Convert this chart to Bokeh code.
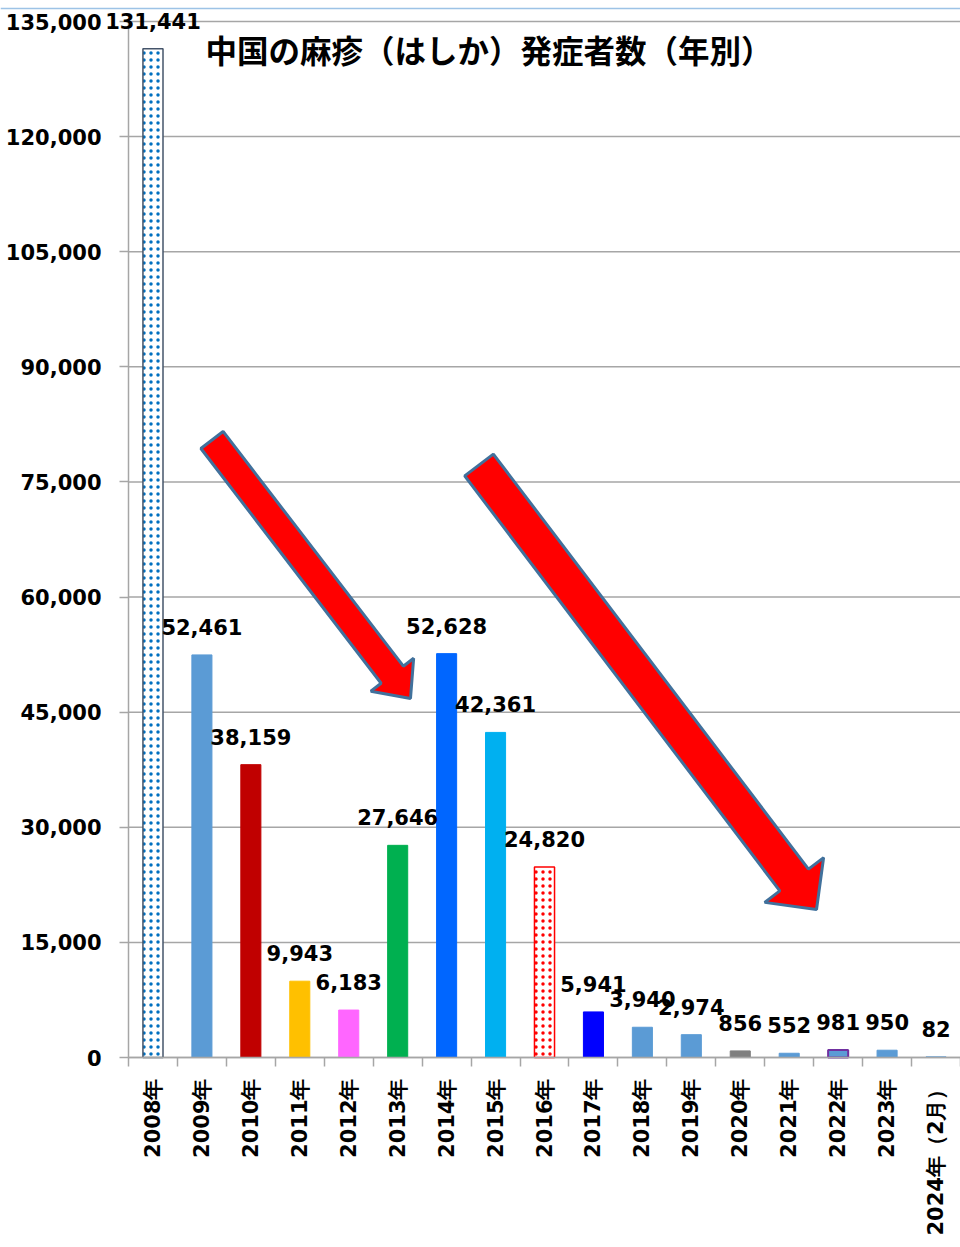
import math
from bokeh.plotting import figure
from bokeh.models import (Range1d, FixedTicker, NumeralTickFormatter, ColumnDataSource, Label,
                          LabelSet, Span)
from bokeh.core.properties import value
from bokeh.embed import file_html
from bokeh.resources import INLINE

# ---------------- data ----------------
years = ["2008年", "2009年", "2010年", "2011年", "2012年", "2013年", "2014年", "2015年",
         "2016年", "2017年", "2018年", "2019年", "2020年", "2021年", "2022年", "2023年",
         "2024年（2月）"]
cases = [131441, 52461, 38159, 9943, 6183, 27646, 52628, 42361, 24820,
         5941, 3940, 2974, 856, 552, 981, 950, 82]
fill_colors = ["#FFFFFF", "#5B9BD5", "#C00000", "#FFC000", "#FF66FF", "#00B050", "#0066FF",
               "#00B0F0", "#FFFFFF", "#0000FF", "#5B9BD5", "#5B9BD5", "#7F7F7F", "#5B9BD5",
               "#5B9BD5", "#5B9BD5", "#5B9BD5"]
line_colors = ["#44546A", "#5B9BD5", "#C00000", "#FFC000", "#FF66FF", "#00B050", "#0066FF",
               "#00B0F0", "#FF0000", "#0000FF", "#5B9BD5", "#5B9BD5", "#7F7F7F", "#5B9BD5",
               "#7030A0", "#5B9BD5", "#5B9BD5"]
line_widths = [1.5, 1, 1, 1, 1, 1, 1, 1, 1.5, 1, 1, 1, 1, 1, 2, 1, 1]
hatches = ["dot", "blank", "blank", "blank", "blank", "blank", "blank", "blank", "dot",
           "blank", "blank", "blank", "blank", "blank", "blank", "blank", "blank"]
hatch_colors = ["#0070C0", "#000000", "#000000", "#000000", "#000000", "#000000", "#000000",
                "#000000", "#FF0000", "#000000", "#000000", "#000000", "#000000", "#000000",
                "#000000", "#000000", "#000000"]
y_ticks = [0, 15000, 30000, 45000, 60000, 75000, 90000, 105000, 120000, 135000]
title_text = "中国の麻疹（はしか）発症者数（年別）"

# arrows: tail / tip in data units; widths in px
arrows = [
    dict(tail=(1.706, 80470), tip=(5.762, 46780), shaft=14, head=27, head_len=30),
    dict(tail=(7.162, 77210), tip=(14.058, 19290), shaft=18, head=37, head_len=37),
]

# ---------------- layout ----------------
W, H = 960, 1245
AX_LEFT, AX_TOP, AX_BOTTOM = 128, 21, 1057   # plot-area position inside the figure
N = len(years)
YMAX = 135000
sx = (W - AX_LEFT) / N            # px per category unit
sy = (AX_BOTTOM - AX_TOP) / YMAX  # px per data unit
x_start = -AX_LEFT / sx
y_end = YMAX + AX_TOP / sy
y_start = -(H - AX_BOTTOM) / sy

xs = [i + 0.5 for i in range(N)]
src = ColumnDataSource(dict(
    x=xs, top=cases, fill=fill_colors, line=line_colors, lw=line_widths,
    hatch=hatches, hcolor=hatch_colors, label=[f"{v:,}" for v in cases]))

p = figure(width=W, height=H, x_range=Range1d(x_start, N), y_range=Range1d(y_start, y_end),
           output_backend="svg", toolbar_location=None,
           min_border_left=0, min_border_right=0, min_border_top=0, min_border_bottom=0)
p.outline_line_color = None
p.background_fill_color = "white"
p.border_fill_color = "white"
p.xgrid.grid_line_color = None
p.ygrid.grid_line_color = None

# horizontal grid lines over the plot area
p.segment(x0=[0] * len(y_ticks), x1=[N] * len(y_ticks), y0=y_ticks, y1=y_ticks,
          line_color="#A6A6A6", line_width=1.5)

# thin blue border line at the top of the chart
p.add_layout(Span(location=YMAX + (AX_TOP - 8) / sy, dimension="width",
                  line_color="#9DC3E6", line_width=1.5))

# y axis, fixed at x = 0
ya = p.yaxis[0]
ya.fixed_location = 0
ya.bounds = (0, YMAX)
ya.ticker = FixedTicker(ticks=y_ticks)
ya.formatter = NumeralTickFormatter(format="0,0")
ya.major_tick_out = 9
ya.major_tick_in = 0
ya.minor_tick_out = 0
ya.minor_tick_in = 0
ya.major_tick_line_color = "#A6A6A6"
ya.major_tick_line_width = 1.5
ya.axis_line_color = "#A6A6A6"
ya.axis_line_width = 1.5
ya.major_label_text_font = "DejaVu Sans"
ya.major_label_text_font_style = "bold"
ya.major_label_text_font_size = "21px"
ya.major_label_text_color = "black"
ya.major_label_standoff = 18

# x axis, fixed at y = 0: labels at centres, tick marks at boundaries
xa = p.xaxis[0]
xa.fixed_location = 0
xa.bounds = (0, N)
xa.ticker = FixedTicker(ticks=xs, minor_ticks=list(range(N + 1)))
xa.major_label_overrides = {x: y for x, y in zip(xs, years)}
xa.major_label_orientation = math.pi / 2
xa.major_tick_out = 0
xa.major_tick_in = 0
xa.minor_tick_out = 9
xa.minor_tick_in = 0
xa.minor_tick_line_color = "#A6A6A6"
xa.minor_tick_line_width = 1.5
xa.axis_line_color = "#A6A6A6"
xa.axis_line_width = 1.5
xa.major_label_text_font = "DejaVu Sans"
xa.major_label_text_font_style = "bold"
xa.major_label_text_font_size = "21px"
xa.major_label_text_color = "black"
xa.major_label_standoff = 12

# bars
p.vbar(x="x", top="top", width=0.41, source=src, fill_color="fill", line_color="line",
       line_width="lw", hatch_pattern="hatch", hatch_color="hcolor", hatch_scale=7,
       hatch_weight=1.6)

# value labels
p.add_layout(LabelSet(x="x", y="top", text="label", source=src, text_align="center",
                      text_baseline="alphabetic", y_offset=20,
                      text_font=value("DejaVu Sans"), text_font_style="bold",
                      text_font_size="21px", text_color="black"))

# arrows (computed in pixel space, converted back to data units)
axs, ays = [], []
for a in arrows:
    tx, ty = a["tail"][0] * sx, a["tail"][1] * sy
    hx, hy = a["tip"][0] * sx, a["tip"][1] * sy
    dx, dy = hx - tx, hy - ty
    L = math.hypot(dx, dy)
    ux, uy = dx / L, dy / L
    nx, ny = -uy, ux
    bx, by = hx - ux * a["head_len"], hy - uy * a["head_len"]
    s, h = a["shaft"], a["head"]
    pts = [(tx + nx * s, ty + ny * s), (bx + nx * s, by + ny * s), (bx + nx * h, by + ny * h),
           (hx, hy), (bx - nx * h, by - ny * h), (bx - nx * s, by - ny * s),
           (tx - nx * s, ty - ny * s)]
    axs.append([px / sx for px, py in pts])
    ays.append([py / sy for px, py in pts])
p.patches(axs, ays, fill_color="#FF0000", line_color="#41719C", line_width=3)

# title inside plot
p.add_layout(Label(x=1.573, y=131480, text=title_text, text_font="Noto Sans CJK JP",
                   text_font_style="bold", text_font_size="31.5px", text_baseline="middle",
                   text_color="black"))

open("out.html", "w").write(file_html(p, INLINE))
